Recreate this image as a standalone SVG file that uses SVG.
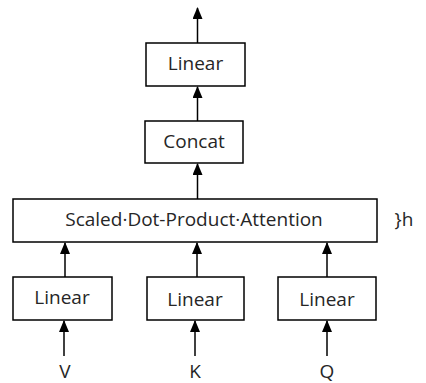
<svg xmlns="http://www.w3.org/2000/svg" width="426" height="383" viewBox="0 0 426 383">
<style>
.box{fill:#fff;stroke:#000;stroke-width:1.5}
.t{font-family:"Open Sans",sans-serif;font-size:19px;fill:#262626;text-anchor:middle;dominant-baseline:central}
.c{stroke:#000;stroke-width:1.5;fill:none;marker-end:url(#ah)}
</style>
<defs>
<marker id="ah" viewBox="0 0 12 10" refX="11" refY="5" markerWidth="12" markerHeight="10" markerUnits="userSpaceOnUse" orient="auto">
<path d="M0,0 L12,5 L0,10 Z" fill="#000"/>
</marker>
</defs>
<rect width="426" height="383" fill="#fff"/>
<g id="connectors">
<path class="c" d="M197.5,43 V8"/>
<path class="c" d="M197.5,121 V87"/>
<path class="c" d="M197.5,199 V164"/>
<path class="c" d="M65,277 V243"/>
<path class="c" d="M197,277 V243"/>
<path class="c" d="M327,277 V243"/>
<path class="c" d="M64,356 V321"/>
<path class="c" d="M195,356 V321"/>
<path class="c" d="M327,356 V321"/>
</g>
<g id="linear-top"><rect class="box" x="146" y="43" width="99" height="43"/><text class="t" x="195.5" y="63">Linear</text></g>
<g id="concat"><rect class="box" x="145" y="121" width="98" height="42"/><text class="t" x="194" y="140.5">Concat</text></g>
<g id="sdpa"><rect class="box" x="13" y="199" width="364" height="43"/><text class="t" x="194" y="219">Scaled·Dot-Product·Attention</text></g>
<g id="h-label"><text class="t" x="404" y="219">}h</text></g>
<g id="linear-v"><rect class="box" x="13" y="277" width="99" height="43"/><text class="t" x="62" y="296.5">Linear</text></g>
<g id="linear-k"><rect class="box" x="147" y="277" width="97" height="43"/><text class="t" x="195" y="299">Linear</text></g>
<g id="linear-q"><rect class="box" x="278" y="277" width="98" height="43"/><text class="t" x="327" y="299">Linear</text></g>
<g id="inputs">
<text class="t" x="65" y="371">V</text>
<text class="t" x="195" y="371">K</text>
<text class="t" x="327" y="371">Q</text>
</g>
</svg>
